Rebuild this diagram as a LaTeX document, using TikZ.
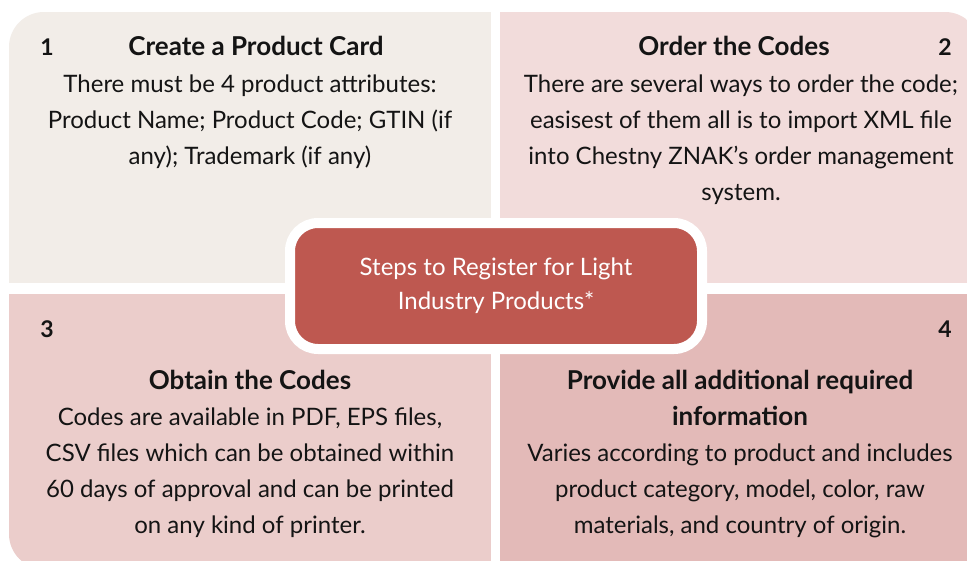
\documentclass[tikz,border=0pt]{standalone}
\usepackage{fontspec}
\setmainfont{Lato}
\usetikzlibrary{positioning}

\definecolor{cardA}{HTML}{F2EDE8}
\definecolor{cardB}{HTML}{F2DCDB}
\definecolor{cardC}{HTML}{EBCDCB}
\definecolor{cardD}{HTML}{E3BAB8}
\definecolor{hubred}{HTML}{BE5850}
\definecolor{ink}{HTML}{141414}

\tikzset{
  title/.style={font=\bfseries\fontsize{26}{36}\selectfont, text=ink, align=center, anchor=base, inner sep=0pt},
  body/.style={font=\fontsize{24}{36}\selectfont, text=ink, align=center, anchor=base, inner sep=0pt},
  num/.style={font=\bfseries\fontsize{23}{24}\selectfont, text=ink, anchor=base, inner sep=0pt},
  hub/.style={rectangle, rounded corners=28, fill=hubred, draw=white, line width=10,
    minimum width=412, minimum height=126, text=white, align=center,
    font=\fontsize{24}{34}\selectfont}
}

\begin{document}
\begin{tikzpicture}[x=1pt,y=-1pt]
\useasboundingbox (0,0) rectangle (967,560);
\fill[white] (0,0) rectangle (967,560);

% Four cards, outer corners rounded by one clip
\begin{scope}
\clip[rounded corners=35] (9,12) rectangle (980,569);
\fill[cardA] (9,12) rectangle (491,283);
\fill[cardB] (500,12) rectangle (980,283);
\fill[cardC] (9,294) rectangle (491,569);
\fill[cardD] (500,294) rectangle (980,569);
\end{scope}

% Card 1 (text anchored at the baseline of its last line)
\node[num] (n1) at (47,55) {1};
\node[title] (t1) at (256,55) {Create a Product Card};
\node[body] (b1) at (250,164) {There must be 4 product attributes:\\Product Name; Product Code; GTIN (if\\any); Trademark (if any)};

% Card 2
\node[num] (n2) at (945,55) {2};
\node[title] (t2) at (734,55) {Order the Codes};
\node[body] (b2) at (741,200) {There are several ways to order the code;\\easisest of them all is to import XML file\\into Chestny ZNAK’s order management\\system.};

% Card 3
\node[num] (n3) at (47,337) {3};
\node[title] (t3) at (250,389) {Obtain the Codes};
\node[body] (b3) at (250,533) {Codes are available in PDF, EPS files,\\CSV files which can be obtained within\\60 days of approval and can be printed\\on any kind of printer.};

% Card 4
\node[num] (n4) at (945,337) {4};
\node[title] (t4) at (740,425) {Provide all additional required\\information};
\node[body] (b4) at (740,533) {Varies according to product and includes\\product category, model, color, raw\\materials, and country of origin.};

% Centre
\node[hub] (steps) at (496,286) {Steps to Register for Light\\Industry Products*};
\end{tikzpicture}
\end{document}
